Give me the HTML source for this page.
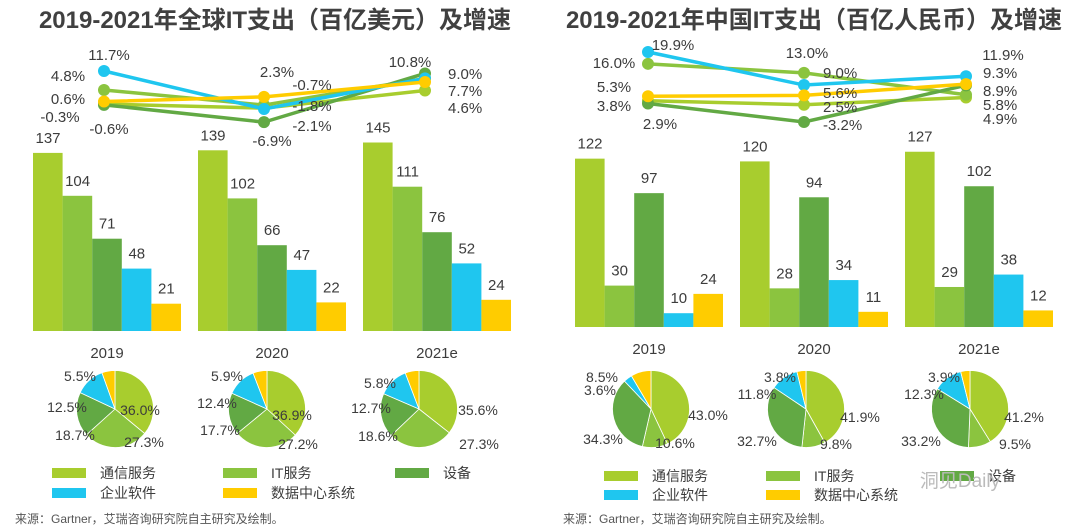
<!DOCTYPE html>
<html><head><meta charset="utf-8"><style>
body{margin:0;background:#fff;width:1080px;height:527px;overflow:hidden;font-family:"Liberation Sans","Noto Sans CJK SC",sans-serif}
svg text{font-family:"Liberation Sans","Noto Sans CJK SC",sans-serif}
</style></head><body>
<svg id="c" width="1080" height="527"></svg>
<script>
const categories=["通信服务","IT服务","设备","企业软件","数据中心系统"];
const years=["2019","2020","2021e"];
const lineYears=["2019","2020","2021"];
const colors=["#a8cd2e","#8bc43f","#62a944","#1fc6ef","#ffcc00"];
// global (hundred-million USD)
const globalBars=[[137,104,71,48,21],[139,102,66,47,22],[145,111,76,52,24]];
const globalGrowth=[[-0.3,4.8,-0.6,11.7,0.6],[-1.8,-0.7,-6.9,-2.1,2.3],[4.6,9.0,10.8,9.0,7.7]];
const globalPie=[[36.0,27.3,18.7,12.5,5.5],[36.9,27.2,17.7,12.4,5.9],[35.6,27.3,18.6,12.7,5.8]];
// china (hundred-million RMB)
const chinaBars=[[122,30,97,10,24],[120,28,94,34,11],[127,29,102,38,12]];
const chinaGrowth=[[3.8,16.0,2.9,19.9,5.3],[2.5,13.0,-3.2,9.0,5.6],[4.9,5.8,8.9,11.9,9.3]];
const chinaPie=[[43.0,10.6,34.3,3.6,8.5],[41.9,9.8,32.7,11.8,3.8],[41.2,9.5,33.2,12.3,3.9]];

const NS="http://www.w3.org/2000/svg",svg=document.getElementById('c');
function mk(t,a,p){const e=document.createElementNS(NS,t);for(const k in a)e.setAttribute(k,a[k]);(p||svg).appendChild(e);return e;}
function txt(x,y,s,sz,anchor,p,w){const e=mk('text',{x:x,y:y,'font-size':sz||15,fill:'#3c3c3c','text-anchor':anchor||'middle','font-weight':w||'normal'},p);e.textContent=s;return e;}

function panel(o){
  const g=mk('g',{});
  
  
  const t=txt(o.titleX,28,o.title,24,'middle',g,'bold');t.setAttribute('fill','#404040');
  
  
  const yB=v=>o.base-v*o.bs;
  const yL=v=>o.ly0+(o.lmax-v)*o.ls;
  o.bars.forEach((grp,gi)=>{
    grp.forEach((v,i)=>{
      const x=o.bx0+gi*165+i*29.6;
      const r=mk('rect',{x:x,y:yB(v),width:29.6,height:o.base-yB(v),fill:colors[i]},g);
      
      
      txt(x+15,yB(v)-10,String(v),15,'middle',g);
    });
    const yl=txt(o.bx0+gi*165+74,o.yearY,years[gi],15,'middle',g);
    
    
  });
  for(let s=0;s<5;s++){
    const pts=o.growth.map((r,gi)=>[o.lx[gi],yL(r[s])]);
    const pl=mk('polyline',{points:pts.map(p=>p.join(',')).join(' '),fill:'none',stroke:colors[s],'stroke-width':3.5},g);
    
    
    pts.forEach(p=>{const c=mk('circle',{cx:p[0],cy:p[1],r:6,fill:colors[s]},g);
      
      });
  }
  o.lineLabels.forEach(l=>txt(l[0],l[1],l[2],15,l[3]||'middle',g));
  o.pie.forEach((vals,gi)=>{
    const cx=o.px[gi],cy=409,r=38.5;let a=0;const tot=vals.reduce((x,y)=>x+y,0);
    vals.forEach((v,i)=>{
      const a0=a,a1=a+v/tot*2*Math.PI;a=a1;
      const p0=[cx+r*Math.sin(a0),cy-r*Math.cos(a0)],p1=[cx+r*Math.sin(a1),cy-r*Math.cos(a1)];
      const pa=mk('path',{d:`M${cx},${cy}L${p0[0]},${p0[1]}A${r},${r} 0 ${a1-a0>Math.PI?1:0} 1 ${p1[0]},${p1[1]}Z`,fill:colors[i],stroke:'#fff','stroke-width':0.8},g);
      
      
    });
  });
  o.pieLabels.forEach(l=>txt(l[0],l[1],l[2],14,'middle',g));
  o.legend.forEach((l,i)=>{
    const sw=mk('rect',{x:l[0],y:l[1]-10,width:34,height:10,fill:colors[i]},g);
    
    
    const lt=txt(l[0]+48,l[1],categories[i],14,'start',g);
    
    
  });
  const src=txt(o.srcX,523,'来源：Gartner，艾瑞咨询研究院自主研究及绘制。',12,'start',g);
  src.setAttribute('fill','#555');
  
  
}
panel({name:'global-panel',title:'2019-2021年全球IT支出（百亿美元）及增速',titleX:275,
  bars:globalBars,growth:globalGrowth,pie:globalPie,base:331,bs:1.3,bx0:33,yearY:358,
  ly0:71,lmax:11.7,ls:2.75,lx:[104,264,425],
  lineLabels:[[109,60,'11.7%'],[68,81,'4.8%'],[68,104,'0.6%'],[60,122,'-0.3%'],[109,134,'-0.6%'],
    [277,77,'2.3%'],[312,90,'-0.7%'],[312,111,'-1.8%'],[312,131,'-2.1%'],[272,146,'-6.9%'],
    [410,67,'10.8%'],[448,79,'9.0%','start'],[448,96,'7.7%','start'],[448,113,'4.6%','start']],
  px:[115,267,419],
  pieLabels:[[80,381,'5.5%'],[67,412,'12.5%'],[75,440,'18.7%'],[140,415,'36.0%'],[144,447,'27.3%'],
    [227,381,'5.9%'],[217,408,'12.4%'],[220,435,'17.7%'],[292,420,'36.9%'],[298,449,'27.2%'],[380,388,'5.8%'],[371,413,'12.7%'],[378,441,'18.6%'],[478,415,'35.6%'],[479,449,'27.3%']],
  legend:[[52,478],[223,478],[395,478],[52,498],[223,498]],srcX:15});
panel({name:'china-panel',title:'2019-2021年中国IT支出（百亿人民币）及增速',titleX:814,
  bars:chinaBars,growth:chinaGrowth,pie:chinaPie,base:327,bs:1.38,bx0:575,yearY:354,
  ly0:52,lmax:19.9,ls:3.03,lx:[648,804,966],
  lineLabels:[[673,50,'19.9%'],[614,68,'16.0%'],[614,92,'5.3%'],[614,111,'3.8%'],[660,129,'2.9%'],
    [807,58,'13.0%'],[823,78,'9.0%','start'],[823,98,'5.6%','start'],[823,112,'2.5%','start'],[823,130,'-3.2%','start'],
    [1003,60,'11.9%'],[983,78,'9.3%','start'],[983,96,'8.9%','start'],[983,110,'5.8%','start'],[983,124,'4.9%','start']],
  px:[651,806,970],
  pieLabels:[[602,382,'8.5%'],[600,395,'3.6%'],[603,444,'34.3%'],[708,420,'43.0%'],[675,448,'10.6%'],
    [780,382,'3.8%'],[757,399,'11.8%'],[757,446,'32.7%'],[860,422,'41.9%'],[836,449,'9.8%'],
    [944,382,'3.9%'],[924,399,'12.3%'],[921,446,'33.2%'],[1024,422,'41.2%'],[1015,449,'9.5%']],
  legend:[[604,481],[766,481],[940,481],[604,500],[766,500]],srcX:563});
const wm=txt(960,487,'洞见Daily',19,'middle');wm.setAttribute('fill','#bbb');


</script>
</body></html>
